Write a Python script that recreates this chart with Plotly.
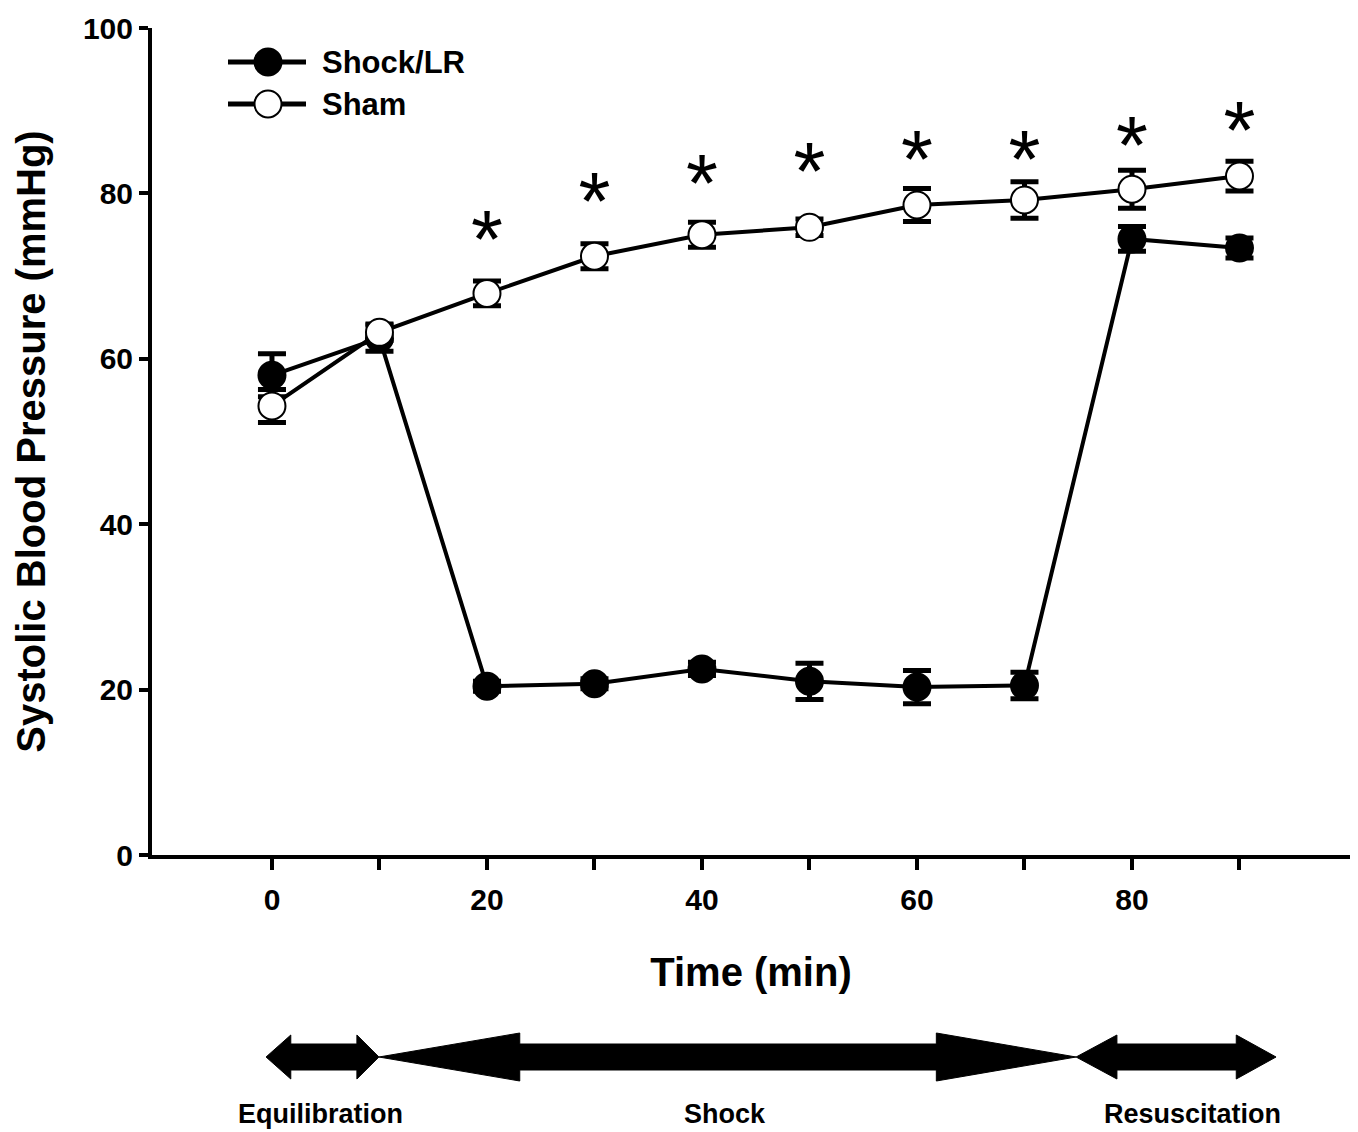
import plotly.graph_objects as go

# ---- data ----
time_min = [0, 10, 20, 30, 40, 50, 60, 70, 80, 90]
shock_lr = [58.0, 62.5, 20.4, 20.7, 22.5, 21.0, 20.3, 20.5, 74.5, 73.4]
shock_lr_err = [2.6, 1.6, 0.6, 0.6, 0.8, 2.2, 2.0, 1.6, 1.5, 1.2]
sham = [54.3, 63.2, 67.9, 72.4, 75.0, 75.9, 78.6, 79.2, 80.5, 82.1]
sham_err = [2.0, 1.0, 1.5, 1.5, 1.5, 1.0, 2.0, 2.2, 2.3, 1.8]
sig_time = [20, 30, 40, 50, 60, 70, 80, 90]
sig_y = [73.6, 78.2, 80.4, 81.8, 83.3, 83.3, 85.0, 86.7]
x_tickvals = [0, 10, 20, 30, 40, 50, 60, 70, 80, 90]
x_ticktext = ["0", "", "20", "", "40", "", "60", "", "80", ""]
y_tickvals = [0, 20, 40, 60, 80, 100]
series_names = ["Shock/LR", "Sham"]
series_fill = ["black", "white"]
phases = ["Equilibration", "Shock", "Resuscitation"]
phase_bounds = [-0.55, 9.95, 74.8, 93.4]
phase_label_x = [4.5, 42.1, 85.6]

XMIN, XMAX = -11.16, 100.28
FONT = "Liberation Sans"
W, H = 1358, 1132
L, R, T, B = 152, 8, 28, 277
PW, PH = W - L - R, H - T - B

def pxp(pix):  # pixel x -> paper
    return (pix - L) / PW

def pyp(pix):  # pixel y -> paper
    return (H - B - pix) / PH

def px(t):  # data x -> paper
    return (t - XMIN) / (XMAX - XMIN)

fig = go.Figure()
for name, yv, ev, fill in [(series_names[0], shock_lr, shock_lr_err, series_fill[0]),
                           (series_names[1], sham, sham_err, series_fill[1])]:
    fig.add_trace(go.Scatter(
        x=time_min, y=yv, name=name, mode="lines+markers", showlegend=False,
        line=dict(color="black", width=4),
        marker=dict(symbol="circle", size=27, color=fill, line=dict(color="black", width=2)),
        error_y=dict(type="data", array=ev, color="black", thickness=5, width=14),
    ))
fig.add_trace(go.Scatter(
    x=sig_time, y=sig_y, mode="text", text=["*"] * len(sig_time),
    textposition="middle center", showlegend=False, hoverinfo="skip",
    textfont=dict(family=FONT, size=82, color="black"),
))

# ---- custom legend ----
for i, (name, fill) in enumerate(zip(series_names, series_fill)):
    yc = 62 + 42 * i
    fig.add_shape(type="line", xref="paper", yref="paper",
                  x0=pxp(228), x1=pxp(306), y0=pyp(yc), y1=pyp(yc),
                  line=dict(color="black", width=5))
    fig.add_shape(type="circle", xref="paper", yref="paper",
                  x0=pxp(268 - 13.5), x1=pxp(268 + 13.5), y0=pyp(yc + 13.5), y1=pyp(yc - 13.5),
                  fillcolor=fill, line=dict(color="black", width=2))
    fig.add_annotation(x=pxp(320), y=pyp(yc), xref="paper", yref="paper", text=name,
                       showarrow=False, xanchor="left", yanchor="middle",
                       font=dict(family=FONT, size=31, color="black", weight="bold"))

# ---- phase arrows below the axis ----
def double_arrow(t0, t1, head_l, head_r, half_head, half_shaft, yc=1057):
    x0, x1 = px(t0), px(t1)
    xb0, xb1 = px(t0 + head_l), px(t1 - head_r)
    yc_ = pyp(yc)
    ht, hb = pyp(yc - half_head), pyp(yc + half_head)
    st, sb = pyp(yc - half_shaft), pyp(yc + half_shaft)
    path = (f"M{x0},{yc_} L{xb0},{ht} L{xb0},{st} L{xb1},{st} L{xb1},{ht} "
            f"L{x1},{yc_} L{xb1},{hb} L{xb1},{sb} L{xb0},{sb} L{xb0},{hb} Z")
    fig.add_shape(type="path", path=path, xref="paper", yref="paper",
                  fillcolor="black", line=dict(color="black", width=1))

double_arrow(phase_bounds[0], phase_bounds[1], 2.3, 2.05, 22, 13)
double_arrow(phase_bounds[1], phase_bounds[2], 13.1, 13.0, 24, 13)
double_arrow(phase_bounds[2], phase_bounds[3], 3.8, 3.7, 22, 13)

for name, lx in zip(phases, phase_label_x):
    fig.add_annotation(x=lx, y=pyp(1114), xref="x", yref="paper", text=name,
                       showarrow=False, font=dict(family=FONT, size=27, color="black", weight="bold"),
                       xanchor="center", yanchor="middle")

fig.update_layout(
    width=W, height=H,
    margin=dict(l=L, r=R, t=T, b=B),
    paper_bgcolor="white", plot_bgcolor="white",
    font=dict(family=FONT, color="black"),
    showlegend=False,
)
fig.update_xaxes(
    range=[XMIN, XMAX], tickvals=x_tickvals, ticktext=x_ticktext,
    showline=True, linecolor="black", linewidth=4, ticks="outside", ticklen=11,
    tickwidth=4, tickcolor="black", showgrid=False, zeroline=False,
    ticklabelstandoff=4,
    tickfont=dict(family=FONT, size=30, color="black", weight="bold"),
    title=dict(text="Time (min)", font=dict(family=FONT, size=40, color="black", weight="bold"),
               standoff=44),
)
fig.update_yaxes(
    range=[0, 100], tickvals=y_tickvals,
    showline=True, linecolor="black", linewidth=4, ticks="outside", ticklen=9,
    tickwidth=4, tickcolor="black", showgrid=False, zeroline=False,
    ticklabelstandoff=0,
    tickfont=dict(family=FONT, size=30, color="black", weight="bold"),
    title=dict(text="Systolic Blood Pressure (mmHg)",
               font=dict(family=FONT, size=40, color="black", weight="bold"), standoff=26),
)

fig.write_html("out.html", config={"displayModeBar": False},
               post_script="document.body.style.margin='0';")
